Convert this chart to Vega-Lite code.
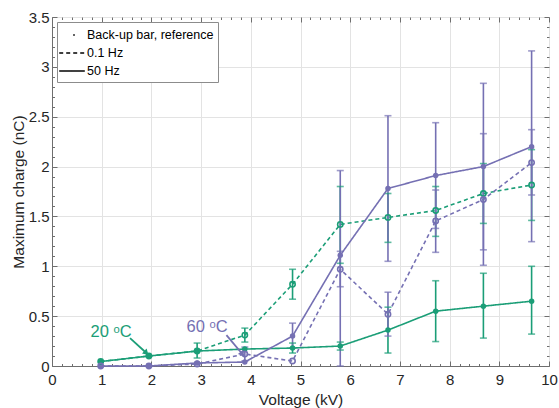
{
  "$schema": "https://vega.github.io/schema/vega-lite/v6.json",
  "width": 497,
  "height": 349,
  "autosize": "none",
  "padding": {"left": 52, "top": 17, "right": 10, "bottom": 42},
  "background": "white",
  "config": {
    "font": "Liberation Sans",
    "view": {"stroke": "#6e6e6e", "strokeWidth": 1},
    "axis": {
      "domainColor": "#6e6e6e",
      "tickColor": "#6e6e6e",
      "gridColor": "#e3e3e3",
      "labelColor": "#262626",
      "titleColor": "#262626",
      "labelFontSize": 15,
      "titleFontSize": 15.5,
      "titleFontWeight": "normal",
      "labelFont": "Liberation Sans",
      "titleFont": "Liberation Sans",
      "labelOverlap": false,
      "tickCount": 200
    }
  },
  "datasets": {
    "pts": [
      {"temp": "20 °C", "freq": "0.1 Hz", "v": 0.98, "q": 0.045},
      {"temp": "20 °C", "freq": "0.1 Hz", "v": 1.95, "q": 0.1},
      {"temp": "20 °C", "freq": "0.1 Hz", "v": 2.92, "q": 0.15, "lo": 0.08, "hi": 0.23},
      {"temp": "20 °C", "freq": "0.1 Hz", "v": 3.88, "q": 0.31, "lo": 0.24, "hi": 0.38},
      {"temp": "20 °C", "freq": "0.1 Hz", "v": 4.84, "q": 0.82, "lo": 0.67, "hi": 0.97},
      {"temp": "20 °C", "freq": "0.1 Hz", "v": 5.8, "q": 1.42, "lo": 1.03, "hi": 1.8},
      {"temp": "20 °C", "freq": "0.1 Hz", "v": 6.76, "q": 1.49, "lo": 1.24, "hi": 1.73},
      {"temp": "20 °C", "freq": "0.1 Hz", "v": 7.72, "q": 1.56, "lo": 1.3, "hi": 1.8},
      {"temp": "20 °C", "freq": "0.1 Hz", "v": 8.68, "q": 1.73, "lo": 1.43, "hi": 2.03},
      {"temp": "20 °C", "freq": "0.1 Hz", "v": 9.65, "q": 1.815, "lo": 1.46, "hi": 2.17},
      {"temp": "20 °C", "freq": "50 Hz", "v": 0.98, "q": 0.045},
      {"temp": "20 °C", "freq": "50 Hz", "v": 1.95, "q": 0.1},
      {"temp": "20 °C", "freq": "50 Hz", "v": 2.92, "q": 0.15},
      {"temp": "20 °C", "freq": "50 Hz", "v": 3.88, "q": 0.17},
      {"temp": "20 °C", "freq": "50 Hz", "v": 4.84, "q": 0.18, "lo": 0.13, "hi": 0.23},
      {"temp": "20 °C", "freq": "50 Hz", "v": 5.8, "q": 0.2, "lo": 0.16, "hi": 0.24},
      {"temp": "20 °C", "freq": "50 Hz", "v": 6.76, "q": 0.36, "lo": 0.13, "hi": 0.59},
      {"temp": "20 °C", "freq": "50 Hz", "v": 7.72, "q": 0.55, "lo": 0.245, "hi": 0.855},
      {"temp": "20 °C", "freq": "50 Hz", "v": 8.68, "q": 0.6, "lo": 0.28, "hi": 0.93},
      {"temp": "20 °C", "freq": "50 Hz", "v": 9.65, "q": 0.65, "lo": 0.32, "hi": 1.0},
      {"temp": "60 °C", "freq": "0.1 Hz", "v": 0.98, "q": 0.0},
      {"temp": "60 °C", "freq": "0.1 Hz", "v": 1.95, "q": 0.0},
      {"temp": "60 °C", "freq": "0.1 Hz", "v": 2.92, "q": 0.02},
      {"temp": "60 °C", "freq": "0.1 Hz", "v": 3.88, "q": 0.12, "lo": 0.05, "hi": 0.19},
      {"temp": "60 °C", "freq": "0.1 Hz", "v": 4.84, "q": 0.05},
      {"temp": "60 °C", "freq": "0.1 Hz", "v": 5.8, "q": 0.97, "lo": 0.795, "hi": 1.15},
      {"temp": "60 °C", "freq": "0.1 Hz", "v": 6.76, "q": 0.52, "lo": 0.3, "hi": 0.74},
      {"temp": "60 °C", "freq": "0.1 Hz", "v": 7.72, "q": 1.455, "lo": 1.14, "hi": 1.765},
      {"temp": "60 °C", "freq": "0.1 Hz", "v": 8.68, "q": 1.67, "lo": 1.01, "hi": 2.33},
      {"temp": "60 °C", "freq": "0.1 Hz", "v": 9.65, "q": 2.04, "lo": 1.715, "hi": 2.37},
      {"temp": "60 °C", "freq": "50 Hz", "v": 0.98, "q": 0.0},
      {"temp": "60 °C", "freq": "50 Hz", "v": 1.95, "q": 0.0},
      {"temp": "60 °C", "freq": "50 Hz", "v": 2.92, "q": 0.03},
      {"temp": "60 °C", "freq": "50 Hz", "v": 3.88, "q": 0.04},
      {"temp": "60 °C", "freq": "50 Hz", "v": 4.84, "q": 0.3, "lo": 0.18, "hi": 0.43},
      {"temp": "60 °C", "freq": "50 Hz", "v": 5.8, "q": 1.11, "lo": 0.0, "hi": 1.96},
      {"temp": "60 °C", "freq": "50 Hz", "v": 6.76, "q": 1.78, "lo": 1.05, "hi": 2.51},
      {"temp": "60 °C", "freq": "50 Hz", "v": 7.72, "q": 1.91, "lo": 1.38, "hi": 2.44},
      {"temp": "60 °C", "freq": "50 Hz", "v": 8.68, "q": 2.0, "lo": 1.165, "hi": 2.835},
      {"temp": "60 °C", "freq": "50 Hz", "v": 9.65, "q": 2.2, "lo": 1.247, "hi": 3.16}
    ],
    "notes": [
      {"temp": "20 °C", "label": "20 ᵒC", "x": 1.19, "y": 0.34},
      {"temp": "60 °C", "label": "60 ᵒC", "x": 3.12, "y": 0.39}
    ],
    "arrows": [
      {"temp": "20 °C", "x": 1.57, "y": 0.28, "x2": 1.9, "y2": 0.13},
      {"temp": "60 °C", "x": 3.51, "y": 0.31, "x2": 3.83, "y2": 0.12}
    ]
  },
  "layer": [
    {
      "layer": [
        {
          "data": {"name": "pts"},
          "transform": [{"filter": "isValid(datum.lo)"}],
          "mark": {"type": "rule", "strokeWidth": 1.6},
          "encoding": {
            "x": {
              "field": "v", "type": "quantitative",
              "scale": {"domain": [0, 10], "nice": false, "zero": false},
              "title": "Voltage (kV)",
              "axis": {
                "values": [0,0.2,0.4,0.6,0.8,1,1.2,1.4,1.6,1.8,2,2.2,2.4,2.6,2.8,3,3.2,3.4,3.6,3.8,4,4.2,4.4,4.6,4.8,5,5.2,5.4,5.6,5.8,6,6.2,6.4,6.6,6.8,7,7.2,7.4,7.6,7.8,8,8.2,8.4,8.6,8.8,9,9.2,9.4,9.6,9.8,10],
                "tickCount": 200,
                "labelExpr": "abs(datum.value - round(datum.value)) < 0.001 ? format(datum.value, '~g') : ''",
                "tickSize": {"condition": {"test": "abs(datum.value - round(datum.value)) < 0.001", "value": -5}, "value": -2.5},
                "gridOpacity": {"condition": {"test": "abs(datum.value - round(datum.value)) < 0.001", "value": 1}, "value": 0},
                "labelPadding": 11,
                "titlePadding": 3,
                "labelFlush": false,
                "labelOverlap": false
              }
            },
            "y": {
              "field": "lo", "type": "quantitative",
              "scale": {"domain": [0, 3.5], "nice": false, "zero": false},
              "title": "Maximum charge (nC)",
              "axis": {
                "values": [0,0.1,0.2,0.3,0.4,0.5,0.6,0.7,0.8,0.9,1,1.1,1.2,1.3,1.4,1.5,1.6,1.7,1.8,1.9,2,2.1,2.2,2.3,2.4,2.5,2.6,2.7,2.8,2.9,3,3.1,3.2,3.3,3.4,3.5],
                "tickCount": 200,
                "labelExpr": "abs(datum.value*2 - round(datum.value*2)) < 0.001 ? format(datum.value, '~g') : ''",
                "tickSize": {"condition": {"test": "abs(datum.value*2 - round(datum.value*2)) < 0.001", "value": -5}, "value": -2.5},
                "gridOpacity": {"condition": {"test": "abs(datum.value*2 - round(datum.value*2)) < 0.001", "value": 1}, "value": 0},
                "labelPadding": 8,
                "titlePadding": 2,
                "labelFlush": false,
                "labelOverlap": false
              }
            },
            "y2": {"field": "hi"},
            "color": {
              "field": "temp", "type": "nominal",
              "scale": {"domain": ["20 °C", "60 °C"], "range": ["#1b9e77", "#7570b3"]},
              "legend": null
            }
          }
        },
        {
          "data": {"name": "pts"},
          "transform": [{"filter": "isValid(datum.lo)"}],
          "mark": {"type": "tick", "orient": "horizontal", "size": 7, "thickness": 1.6},
          "encoding": {
            "x": {"field": "v", "type": "quantitative"},
            "y": {"field": "lo", "type": "quantitative"},
            "color": {"field": "temp", "type": "nominal"}
          }
        },
        {
          "data": {"name": "pts"},
          "transform": [{"filter": "isValid(datum.lo)"}],
          "mark": {"type": "tick", "orient": "horizontal", "size": 7, "thickness": 1.6},
          "encoding": {
            "x": {"field": "v", "type": "quantitative"},
            "y": {"field": "hi", "type": "quantitative"},
            "color": {"field": "temp", "type": "nominal"}
          }
        },
        {
          "data": {"name": "pts"},
          "mark": {"type": "line", "strokeWidth": 1.6},
          "encoding": {
            "x": {"field": "v", "type": "quantitative"},
            "y": {"field": "q", "type": "quantitative"},
            "color": {"field": "temp", "type": "nominal"},
            "strokeDash": {
              "field": "freq", "type": "nominal",
              "scale": {
                "domain": ["Back-up bar, reference", "0.1 Hz", "50 Hz"],
                "range": [[0, 14, 1.6, 100], [4, 3], [1, 0]]
              },
              "legend": {
                "title": null,
                "orient": "top-left",
                "offset": 5,
                "padding": 4,
                "fillColor": "white",
                "strokeColor": "#8c8c8c",
                "symbolType": "M-1.6,0H1.6",
                "symbolSize": 256,
                "symbolOffset": 2,
                "symbolStrokeWidth": 1.6,
                "symbolStrokeColor": "black",
                "symbolFillColor": "transparent",
                "labelFontSize": 12.5,
                "labelColor": "#000000",
                "labelFont": "Liberation Sans",
                "labelOffset": 6,
                "rowPadding": 2
              }
            }
          }
        },
        {
          "data": {"name": "pts"},
          "transform": [{"filter": "datum.freq === '50 Hz'"}],
          "mark": {"type": "point", "shape": "circle", "filled": true, "size": 30, "opacity": 1},
          "encoding": {
            "x": {"field": "v", "type": "quantitative"},
            "y": {"field": "q", "type": "quantitative"},
            "color": {"field": "temp", "type": "nominal"}
          }
        },
        {
          "data": {"name": "pts"},
          "transform": [{"filter": "datum.freq === '0.1 Hz'"}],
          "mark": {"type": "point", "shape": "circle", "filled": false, "size": 28, "strokeWidth": 1.6, "opacity": 1},
          "encoding": {
            "x": {"field": "v", "type": "quantitative"},
            "y": {"field": "q", "type": "quantitative"},
            "color": {"field": "temp", "type": "nominal"}
          }
        },
        {
          "data": {"name": "arrows"},
          "mark": {"type": "rule", "strokeWidth": 1.8},
          "encoding": {
            "x": {"field": "x", "type": "quantitative"},
            "y": {"field": "y", "type": "quantitative"},
            "x2": {"field": "x2"},
            "y2": {"field": "y2"},
            "color": {"field": "temp", "type": "nominal"}
          }
        },
        {
          "data": {"name": "arrows"},
          "transform": [{"filter": "datum.temp === '20 °C'"}],
          "mark": {"type": "point", "shape": "triangle-up", "filled": true, "size": 45, "angle": 133, "opacity": 1},
          "encoding": {
            "x": {"field": "x2", "type": "quantitative"},
            "y": {"field": "y2", "type": "quantitative"},
            "color": {"field": "temp", "type": "nominal"}
          }
        },
        {
          "data": {"name": "arrows"},
          "transform": [{"filter": "datum.temp === '60 °C'"}],
          "mark": {"type": "point", "shape": "triangle-up", "filled": true, "size": 45, "angle": 140, "opacity": 1},
          "encoding": {
            "x": {"field": "x2", "type": "quantitative"},
            "y": {"field": "y2", "type": "quantitative"},
            "color": {"field": "temp", "type": "nominal"}
          }
        },
        {
          "data": {"name": "notes"},
          "mark": {"type": "text", "fontSize": 16.5, "font": "Liberation Sans"},
          "encoding": {
            "x": {"field": "x", "type": "quantitative"},
            "y": {"field": "y", "type": "quantitative"},
            "text": {"field": "label"},
            "color": {"field": "temp", "type": "nominal"}
          }
        }
      ]
    },
    {
      "data": {"name": "pts"},
      "mark": {"type": "point", "opacity": 0},
      "encoding": {
        "x": {
          "field": "v", "type": "quantitative",
          "axis": {
            "orient": "top", "title": null, "labels": false, "domain": false, "grid": false,
            "tickCount": 200,
            "values": [0,0.2,0.4,0.6,0.8,1,1.2,1.4,1.6,1.8,2,2.2,2.4,2.6,2.8,3,3.2,3.4,3.6,3.8,4,4.2,4.4,4.6,4.8,5,5.2,5.4,5.6,5.8,6,6.2,6.4,6.6,6.8,7,7.2,7.4,7.6,7.8,8,8.2,8.4,8.6,8.8,9,9.2,9.4,9.6,9.8,10],
            "tickSize": {"condition": {"test": "abs(datum.value - round(datum.value)) < 0.001", "value": -5}, "value": -2.5}
          }
        },
        "y": {
          "field": "q", "type": "quantitative",
          "axis": {
            "orient": "right", "title": null, "labels": false, "domain": false, "grid": false,
            "tickCount": 200,
            "values": [0,0.1,0.2,0.3,0.4,0.5,0.6,0.7,0.8,0.9,1,1.1,1.2,1.3,1.4,1.5,1.6,1.7,1.8,1.9,2,2.1,2.2,2.3,2.4,2.5,2.6,2.7,2.8,2.9,3,3.1,3.2,3.3,3.4,3.5],
            "tickSize": {"condition": {"test": "abs(datum.value*2 - round(datum.value*2)) < 0.001", "value": -5}, "value": -2.5}
          }
        }
      }
    }
  ],
  "resolve": {"axis": {"x": "independent", "y": "independent"}}
}
